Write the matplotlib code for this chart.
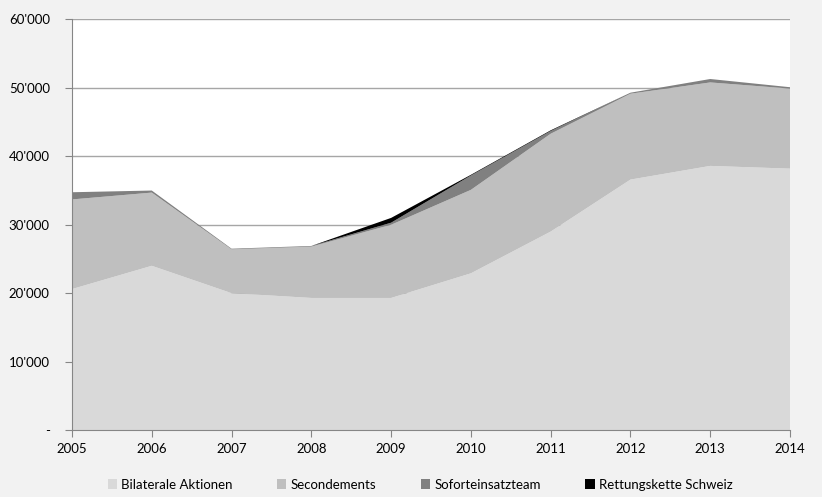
import numpy as np
import matplotlib.pyplot as plt
from matplotlib.patches import Patch
from matplotlib.ticker import FuncFormatter

plt.rcParams['font.family'] = ['Lato', 'DejaVu Sans']

years = [2005, 2006, 2007, 2008, 2009, 2010, 2011, 2012, 2013, 2014]
bilaterale = [20600, 24000, 20000, 19300, 19300, 22900, 29000, 36600, 38600, 38200]
secondements = [13100, 10700, 6400, 7500, 10700, 12200, 14300, 12550, 12200, 11700]
soforteinsatz = [1050, 300, 100, 100, 300, 2100, 400, 150, 500, 200]
rettungskette = [0, 0, 0, 0, 700, 100, 100, 0, 0, 0]

labels = ['Bilaterale Aktionen', 'Secondements', 'Soforteinsatzteam', 'Rettungskette Schweiz']
colors = ['#d9d9d9', '#bfbfbf', '#808080', '#000000']

fig = plt.figure(figsize=(8.22, 4.97), dpi=100, facecolor='#f2f2f2')
ax = fig.add_axes([0.0876, 0.1348, 0.8735, 0.826])
ax.set_facecolor('white')

ax.stackplot(years, bilaterale, secondements, soforteinsatz, rettungskette,
             colors=colors, linewidth=0, zorder=2)

ax.set_xlim(2005, 2014)
ax.set_ylim(0, 60000)
ax.set_xticks(years)
ax.set_yticks(np.arange(0, 60001, 10000))


def fmt(v, pos):
    if v == 0:
        return '-'
    return f"{int(v):,}".replace(',', "'")


ax.yaxis.set_major_formatter(FuncFormatter(fmt))
ax.grid(axis='y', color='#a6a6a6', linewidth=1, zorder=1)
ax.set_axisbelow(True)

for s in ['top', 'right']:
    ax.spines[s].set_visible(False)
for s in ['left', 'bottom']:
    ax.spines[s].set_color('#868686')
    ax.spines[s].set_zorder(3)
ax.tick_params(axis='both', colors='#868686', labelcolor='black', labelsize=9.5, length=5)
ax.tick_params(axis='x', pad=4)
ax.tick_params(axis='y', pad=11)

handles = [Patch(facecolor=c, edgecolor='none') for c in colors]
fig.legend(handles, labels, loc='center', bbox_to_anchor=(0.511, 0.025), ncol=4,
           frameon=False, fontsize=9.5, handlelength=0.7, handleheight=0.7,
           handletextpad=0.3, columnspacing=3.4)

fig.savefig('out.png', dpi=100, facecolor=fig.get_facecolor())
